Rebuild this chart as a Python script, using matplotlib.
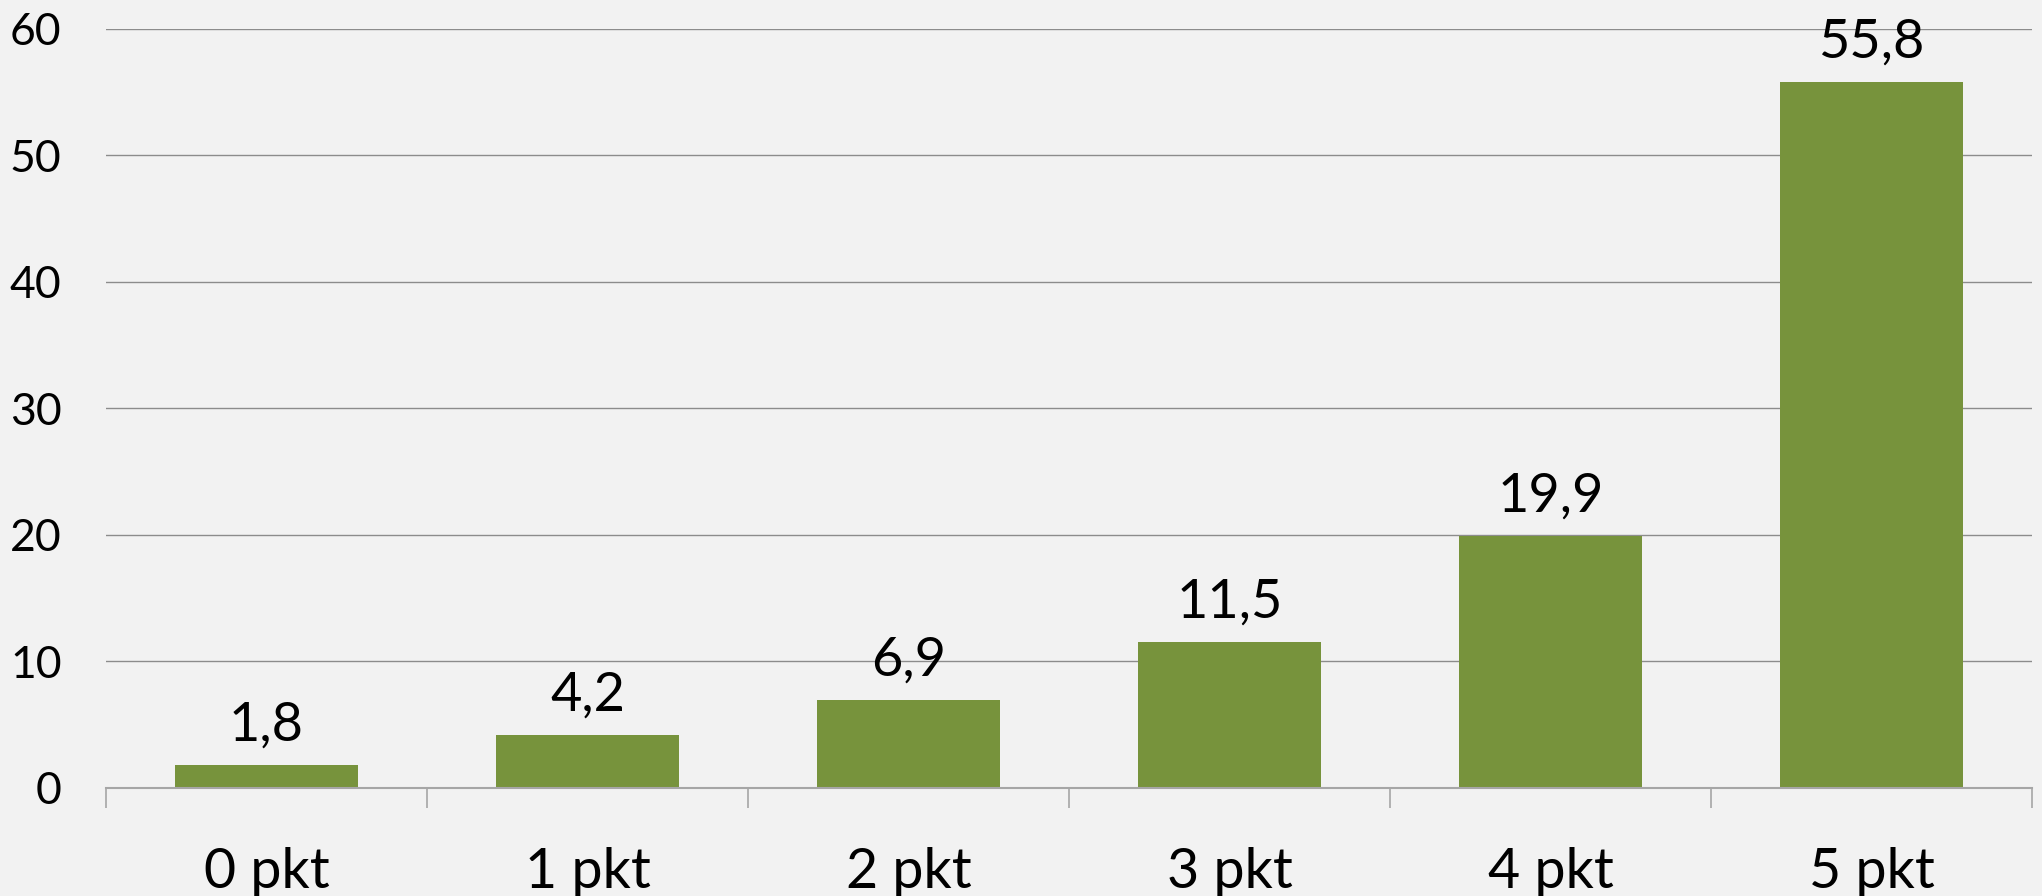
import matplotlib
matplotlib.use('Agg')
import matplotlib.pyplot as plt

# Data
categories = ["0 pkt", "1 pkt", "2 pkt", "3 pkt", "4 pkt", "5 pkt"]
values = [1.8, 4.2, 6.9, 11.5, 19.9, 55.8]
y_ticks = [0, 10, 20, 30, 40, 50, 60]

bg = "#f2f2f2"
bar_color = "#77933c"

plt.rcParams["font.family"] = ["Lato", "DejaVu Sans"]

fig = plt.figure(figsize=(20.42, 8.96), dpi=100)
fig.patch.set_facecolor(bg)
ax = fig.add_axes([0.0519, 0.1209, 0.9432, 0.8471])
ax.set_facecolor(bg)

x = list(range(len(categories)))
bars = ax.bar(x, values, width=0.57, color=bar_color, zorder=3)

for rect, v in zip(bars, values):
    ax.annotate(f"{v:.1f}".replace(".", ","),
                (rect.get_x() + rect.get_width() / 2, rect.get_height()),
                xytext=(0, 11), textcoords="offset points",
                ha="center", va="bottom", fontsize=39, color="black")

ax.set_xlim(-0.5, len(categories) - 0.5)
ax.set_ylim(0, 60)
ax.set_yticks(y_ticks)
ax.set_yticklabels([str(t) for t in y_ticks])
ax.tick_params(axis="y", length=0, pad=32, labelsize=32)

ax.set_xticks(x)
ax.set_xticklabels(categories)
ax.tick_params(axis="x", which="major", length=0, pad=43, labelsize=40)
ax.set_xticks([i - 0.5 for i in range(len(categories) + 1)], minor=True)
ax.tick_params(axis="x", which="minor", length=14.5, width=1.2, color="#a6a6a6")

ax.grid(axis="y", color="#8c8c8c", linewidth=1.0, zorder=0)
for side in ["top", "right", "left"]:
    ax.spines[side].set_visible(False)
ax.spines["bottom"].set_color("#a6a6a6")
ax.spines["bottom"].set_linewidth(1.5)
ax.spines["bottom"].set_zorder(4)

fig.savefig("out.png", dpi=100, facecolor=bg)
